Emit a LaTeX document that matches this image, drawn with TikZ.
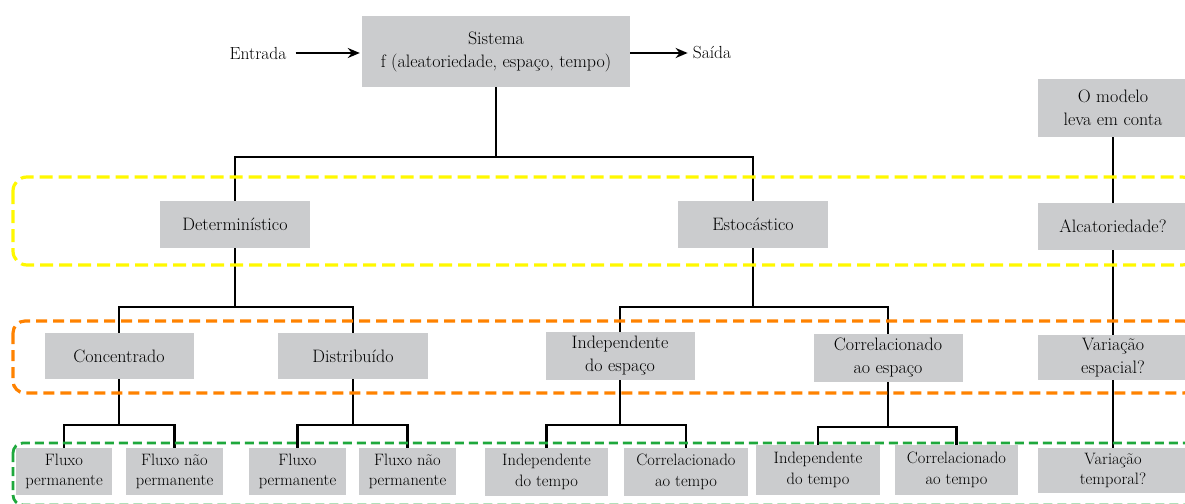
\documentclass[tikz,border=0pt]{standalone}
\usepackage{fontspec}
\setmainfont{Latin Modern Roman}
\usetikzlibrary{arrows.meta}
\definecolor{boxgray}{RGB}{203,204,206}
\definecolor{dyellow}{RGB}{255,248,0}
\definecolor{dorange}{RGB}{255,130,0}
\definecolor{dgreen}{RGB}{30,168,60}
\begin{document}
\begin{tikzpicture}[x=1pt,y=-1pt,
  gbox/.style={fill=boxgray, draw=none, align=center, inner sep=0pt,
    font=\fontsize{18}{23}\selectfont},
  sbox/.style={gbox, font=\fontsize{16.5}{20.5}\selectfont},
  plain/.style={align=center, inner sep=0pt, font=\fontsize{17.5}{22}\selectfont},
  conn/.style={draw=black, line width=2.2pt},
  flow/.style={draw=black, line width=2.2pt, -{Stealth[length=12pt,width=10pt]}},
  band/.style={line width=3.2pt}
]
\useasboundingbox (0,0) rectangle (1185,503);

% top
\node[gbox, minimum width=268, minimum height=71] (sis) at (496,51.5)
  {Sistema\\f (aleatoriedade, espaço, tempo)};
\node[plain] (ent) at (258,53) {Entrada};
\node[plain] (sai) at (712,53) {Saída};
\draw[flow, shorten <=9pt, shorten >=2pt] (ent.east) -- (ent.east -| sis.west);
\draw[flow, shorten >=5pt] (sai.west -| sis.east) -- (sai.west);

% level 1
\node[gbox, minimum width=150, minimum height=47] (det) at (235,224.5) {Determinístico};
\node[gbox, minimum width=150, minimum height=47] (est) at (753,224.5) {Estocástico};
\node[gbox, minimum width=150, minimum height=58] (mod) at (1113,108) {O modelo\\leva em conta};
\node[gbox, minimum width=150, minimum height=47] (alc) at (1113,226.5) {Alcatoriedade?};

% level 2
\node[gbox, minimum width=149, minimum height=46] (con) at (119,356) {Concentrado};
\node[gbox, minimum width=150, minimum height=46] (dis) at (353,356) {Distribuído};
\node[gbox, minimum width=149, minimum height=48] (ide) at (620,356) {Independente\\do espaço};
\node[gbox, minimum width=149, minimum height=48] (cor) at (888,358) {Correlacionado\\ao espaço};
\node[gbox, minimum width=150, minimum height=45] (vae) at (1113,357.5) {Variação\\espacial?};

% level 3
\node[sbox, minimum width=96, minimum height=47] (f1) at (64,471.5) {Fluxo\\permanente};
\node[sbox, minimum width=97, minimum height=47] (f2) at (174.5,471.5) {Fluxo não\\permanente};
\node[sbox, minimum width=97, minimum height=47] (f3) at (297.5,471.5) {Fluxo\\permanente};
\node[sbox, minimum width=97, minimum height=47] (f4) at (407.5,471.5) {Fluxo não\\permanente};
\node[sbox, minimum width=123, minimum height=48] (t1) at (546.5,472) {Independente\\do tempo};
\node[sbox, minimum width=124, minimum height=48] (t2) at (686,472) {Correlacionado\\ao tempo};
\node[sbox, minimum width=124, minimum height=50] (t3) at (818,470) {Independente\\do tempo};
\node[sbox, minimum width=123, minimum height=50] (t4) at (956.5,470) {Correlacionado\\ao tempo};
\node[sbox, minimum width=150, minimum height=45] (vat) at (1113,470.5) {Variação\\temporal?};

% branch levels
\coordinate (y0) at (0,157);
\coordinate (y1) at (0,307);
\coordinate (y2) at (0,425);
\coordinate (y3) at (0,427);

\draw[conn] (sis.south) -- (sis.south |- y0);
\draw[conn] (det.north) -- (det.north |- y0) -- (est.north |- y0) -- (est.north);

\draw[conn] (det.south) -- (det.south |- y1);
\draw[conn] (con.north) -- (con.north |- y1) -- (dis.north |- y1) -- (dis.north);
\draw[conn] (est.south) -- (est.south |- y1);
\draw[conn] (ide.north) -- (ide.north |- y1) -- (cor.north |- y1) -- (cor.north);

\draw[conn] (con.south) -- (con.south |- y2);
\draw[conn] (f1.north) -- (f1.north |- y2) -- (f2.north |- y2) -- (f2.north);
\draw[conn] (dis.south) -- (dis.south |- y2);
\draw[conn] (f3.north) -- (f3.north |- y2) -- (f4.north |- y2) -- (f4.north);
\draw[conn] (ide.south) -- (ide.south |- y2);
\draw[conn] (t1.north) -- (t1.north |- y2) -- (t2.north |- y2) -- (t2.north);
\draw[conn] (cor.south) -- (cor.south |- y3);
\draw[conn] (t3.north) -- (t3.north |- y3) -- (t4.north |- y3) -- (t4.north);

\draw[conn] (mod.south) -- (alc.north);
\draw[conn] (alc.south) -- (vae.north);
\draw[conn] (vae.south) -- (vat.north);

% dashed bands
\draw[band, dyellow, dash pattern=on 13pt off 6pt, rounded corners=14pt]
  (13,177) rectangle (1196,265);
\draw[band, dorange, dash pattern=on 11pt off 6pt, rounded corners=12pt]
  (13,321) rectangle (1196,393);
\draw[band, line width=2.8pt, dgreen, dash pattern=on 9pt off 5pt, rounded corners=10pt]
  (13,443) rectangle (1196,505);
\end{tikzpicture}
\end{document}
